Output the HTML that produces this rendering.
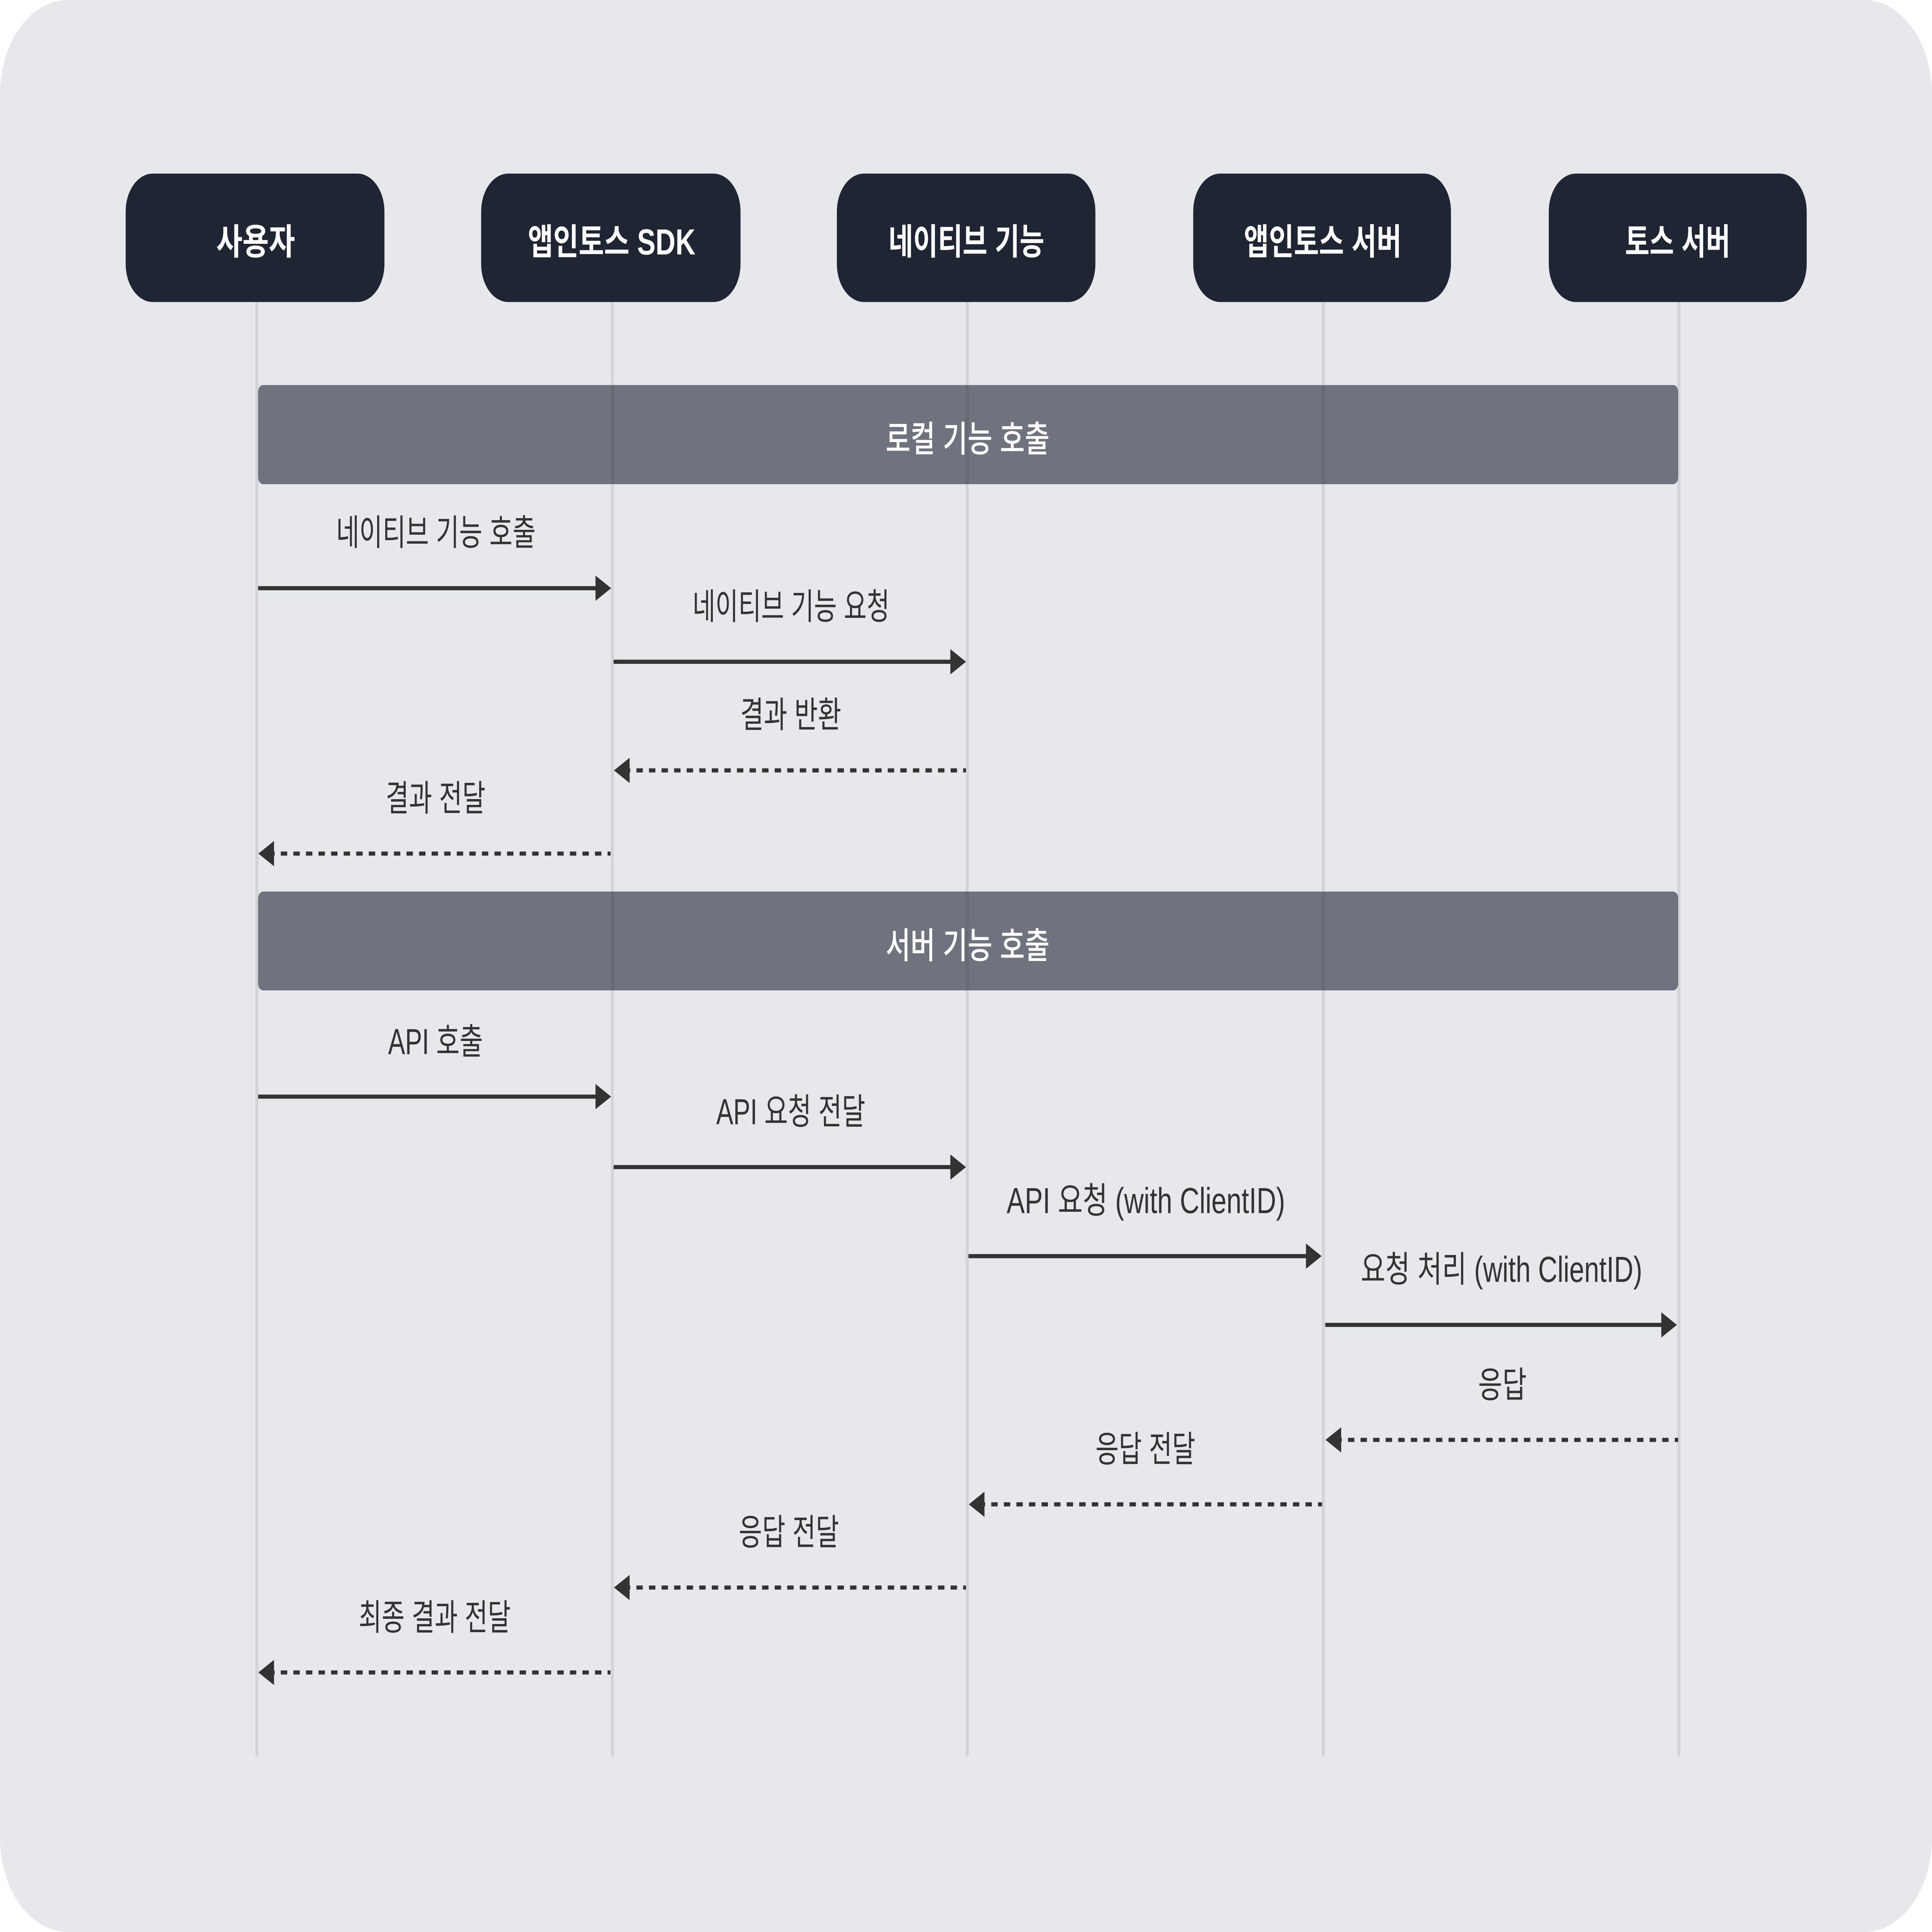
<!DOCTYPE html>
<html>
<head>
<meta charset="utf-8">
<style>
html,body{margin:0;padding:0;background:#ffffff;width:100%;height:100%;overflow:hidden}
svg{display:block;width:100vw;height:100vh}
text{font-family:"Liberation Sans","Noto Sans CJK KR",sans-serif}
</style>
</head>
<body>
<svg xmlns="http://www.w3.org/2000/svg" viewBox="0 0 1568 1124" preserveAspectRatio="none">
  <!-- background card -->
  <rect x="0" y="0" width="1568" height="1124" rx="55" ry="55" fill="#e7e8ec"/>

  <!-- lifelines -->
  <g stroke="#d3d4d7" stroke-width="2.4">
    <line x1="208.5" y1="175" x2="208.5" y2="1022"/>
    <line x1="497" y1="175" x2="497" y2="1022"/>
    <line x1="785" y1="175" x2="785" y2="1022"/>
    <line x1="1074" y1="175" x2="1074" y2="1022"/>
    <line x1="1362.5" y1="175" x2="1362.5" y2="1022"/>
  </g>

  <!-- group bars -->
  <rect x="209.5" y="224" width="1152.5" height="57.7" rx="4" ry="4" fill="#1f2533" fill-opacity="0.6"/>
  <rect x="209.5" y="518.7" width="1152.5" height="57.5" rx="4" ry="4" fill="#1f2533" fill-opacity="0.6"/>
  <text x="785.3" y="262.8" font-size="21" font-weight="500" fill="#ffffff" text-anchor="middle" textLength="133" lengthAdjust="spacingAndGlyphs">로컬 기능 호출</text>
  <text x="785.3" y="557.5" font-size="21" font-weight="500" fill="#ffffff" text-anchor="middle" textLength="133" lengthAdjust="spacingAndGlyphs">서버 기능 호출</text>

  <!-- participants -->
  <g fill="#1f2533">
    <rect x="102" y="101" width="210" height="74.7" rx="22" ry="22"/>
    <rect x="390.5" y="101" width="210.5" height="74.7" rx="22" ry="22"/>
    <rect x="679.2" y="101" width="209.8" height="74.7" rx="22" ry="22"/>
    <rect x="968.4" y="101" width="209.2" height="74.7" rx="22" ry="22"/>
    <rect x="1257" y="101" width="209.3" height="74.7" rx="22" ry="22"/>
  </g>
  <g fill="#ffffff" font-size="21" font-weight="bold" text-anchor="middle">
    <text x="207.5" y="148" textLength="64" lengthAdjust="spacingAndGlyphs">사용자</text>
    <text x="496.4" y="148" textLength="136" lengthAdjust="spacingAndGlyphs">앱인토스 SDK</text>
    <text x="784.3" y="148" textLength="126.5" lengthAdjust="spacingAndGlyphs">네이티브 기능</text>
    <text x="1073.5" y="148" textLength="128" lengthAdjust="spacingAndGlyphs">앱인토스 서버</text>
    <text x="1361.6" y="148" textLength="85.5" lengthAdjust="spacingAndGlyphs">토스 서버</text>
  </g>

  <!-- solid arrows -->
  <g stroke="#333333" stroke-width="2.4" fill="none">
    <line x1="209.5" y1="342.2" x2="486" y2="342.2"/>
    <line x1="498" y1="385" x2="774" y2="385"/>
    <line x1="209.5" y1="638" x2="486" y2="638"/>
    <line x1="498" y1="679" x2="774" y2="679"/>
    <line x1="786" y1="730.8" x2="1062.6" y2="730.8"/>
    <line x1="1075.5" y1="770.8" x2="1351" y2="770.8"/>
  </g>
  <g fill="#333333">
    <polygon points="496,342.2 483.3,334.85 483.3,349.55"/>
    <polygon points="784,385 771.3,377.65 771.3,392.35"/>
    <polygon points="496,638 483.3,630.65 483.3,645.35"/>
    <polygon points="784,679 771.3,671.65 771.3,686.35"/>
    <polygon points="1072.6,730.8 1059.9,723.45 1059.9,738.15"/>
    <polygon points="1361,770.8 1348.3,763.45 1348.3,778.15"/>
  </g>

  <!-- dashed arrows (pointing left) -->
  <g stroke="#333333" stroke-width="2.4" fill="none" stroke-dasharray="5.2 5">
    <line x1="506.3" y1="448.2" x2="784" y2="448.2"/>
    <line x1="217.7" y1="496.6" x2="495.5" y2="496.6"/>
    <line x1="1083.8" y1="837.7" x2="1362" y2="837.7"/>
    <line x1="794.3" y1="875.2" x2="1073" y2="875.2"/>
    <line x1="506.3" y1="923.6" x2="784" y2="923.6"/>
    <line x1="217.7" y1="973" x2="495.5" y2="973"/>
  </g>
  <g fill="#333333">
    <polygon points="498.3,448.2 511,440.85 511,455.55"/>
    <polygon points="209.7,496.6 222.4,489.25 222.4,503.95"/>
    <polygon points="1075.8,837.7 1088.5,830.35 1088.5,845.05"/>
    <polygon points="786.3,875.2 799,867.85 799,882.55"/>
    <polygon points="498.3,923.6 511,916.25 511,930.95"/>
    <polygon points="209.7,973 222.4,965.65 222.4,980.35"/>
  </g>

  <!-- message labels -->
  <g fill="#333333" font-size="21" text-anchor="middle">
    <text x="353.8" y="317.2" textLength="162" lengthAdjust="spacingAndGlyphs">네이티브 기능 호출</text>
    <text x="642" y="360.2" textLength="160" lengthAdjust="spacingAndGlyphs">네이티브 기능 요청</text>
    <text x="641.8" y="423.2" textLength="82" lengthAdjust="spacingAndGlyphs">결과 반환</text>
    <text x="353.5" y="471.8" textLength="81" lengthAdjust="spacingAndGlyphs">결과 전달</text>
    <text x="353.5" y="613.2" textLength="77" lengthAdjust="spacingAndGlyphs">API 호출</text>
    <text x="641.8" y="654" textLength="121" lengthAdjust="spacingAndGlyphs">API 요청 전달</text>
    <text x="930" y="705.8" textLength="226" lengthAdjust="spacingAndGlyphs">API 요청 (with ClientID)</text>
    <text x="1218.6" y="745.8" textLength="228.5" lengthAdjust="spacingAndGlyphs">요청 처리 (with ClientID)</text>
    <text x="1219.3" y="813" textLength="39.4" lengthAdjust="spacingAndGlyphs">응답</text>
    <text x="929.6" y="850.4" textLength="81" lengthAdjust="spacingAndGlyphs">응답 전달</text>
    <text x="640.3" y="898.8" textLength="81.4" lengthAdjust="spacingAndGlyphs">응답 전달</text>
    <text x="352.8" y="948.3" textLength="123.5" lengthAdjust="spacingAndGlyphs">최종 결과 전달</text>
  </g>
</svg>
</body>
</html>
